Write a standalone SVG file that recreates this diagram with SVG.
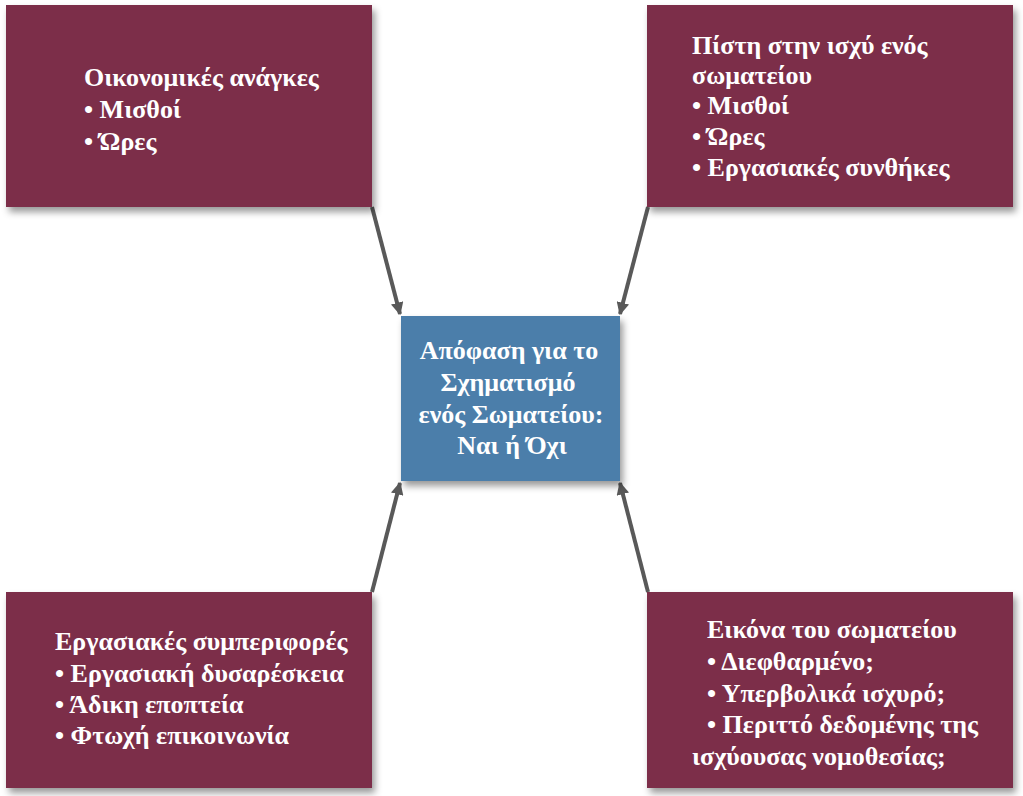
<svg xmlns="http://www.w3.org/2000/svg" width="1023" height="796" viewBox="0 0 1023 796">
<style>
.box{fill:#7b2e48;filter:url(#sh)}
.ctr{fill:#4c7eaa;filter:url(#sh)}
.t{font-family:"Liberation Serif","Times New Roman",serif;font-weight:bold;font-size:26px;fill:#ffffff}
.c{text-anchor:middle}
.conn{stroke:#595959;stroke-width:4;fill:none;marker-end:url(#ah)}
</style>
<defs>
<filter id="sh" x="-10%" y="-10%" width="125%" height="130%">
<feDropShadow dx="3" dy="5" stdDeviation="3.5" flood-color="#000" flood-opacity="0.4"/>
</filter>
<marker id="ah" viewBox="0 0 10 10" refX="9" refY="5" markerWidth="3.2" markerHeight="3.2" orient="auto" markerUnits="strokeWidth">
<path d="M0,0 L10,5 L0,10 z" fill="#595959"/>
</marker>
</defs>
<rect width="1023" height="796" fill="#ffffff"/>
<g id="connectors">
<line class="conn" x1="372" y1="207" x2="400" y2="314"/>
<line class="conn" x1="648" y1="207" x2="620" y2="314"/>
<line class="conn" x1="372" y1="592" x2="400" y2="483"/>
<line class="conn" x1="648" y1="592" x2="620" y2="483"/>
</g>
<g id="economic">
<rect class="box" x="6" y="5" width="366" height="202"/>
<text class="t" x="84" y="86">Οικονομικές ανάγκες</text>
<text class="t" x="84" y="118">• Μισθοί</text>
<text class="t" x="84" y="150">• Ώρες</text>
</g>
<g id="belief">
<rect class="box" x="647" y="5" width="366" height="202"/>
<text class="t" x="692" y="54">Πίστη στην ισχύ ενός</text>
<text class="t" x="692" y="84">σωματείου</text>
<text class="t" x="692" y="114">• Μισθοί</text>
<text class="t" x="692" y="145">• Ώρες</text>
<text class="t" x="692" y="176">• Εργασιακές συνθήκες</text>
</g>
<g id="decision">
<rect class="ctr" x="401" y="316" width="219" height="165"/>
<text class="t c" x="509" y="359">Απόφαση για το</text>
<text class="t c" x="508" y="391">Σχηματισμό</text>
<text class="t c" x="511" y="423">ενός Σωματείου:</text>
<text class="t c" x="512" y="454">Ναι ή Όχι</text>
</g>
<g id="behaviors">
<rect class="box" x="6" y="592" width="366" height="196"/>
<text class="t" x="55" y="650">Εργασιακές συμπεριφορές</text>
<text class="t" x="55" y="682">• Εργασιακή δυσαρέσκεια</text>
<text class="t" x="55" y="713">• Άδικη εποπτεία</text>
<text class="t" x="55" y="744">• Φτωχή επικοινωνία</text>
</g>
<g id="image">
<rect class="box" x="647" y="592" width="366" height="196"/>
<text class="t" x="707" y="638">Εικόνα του σωματείου</text>
<text class="t" x="707" y="670">• Διεφθαρμένο;</text>
<text class="t" x="707" y="702">• Υπερβολικά ισχυρό;</text>
<text class="t" x="707" y="733">• Περιττό δεδομένης της</text>
<text class="t" x="692" y="765">ισχύουσας νομοθεσίας;</text>
</g>
</svg>
